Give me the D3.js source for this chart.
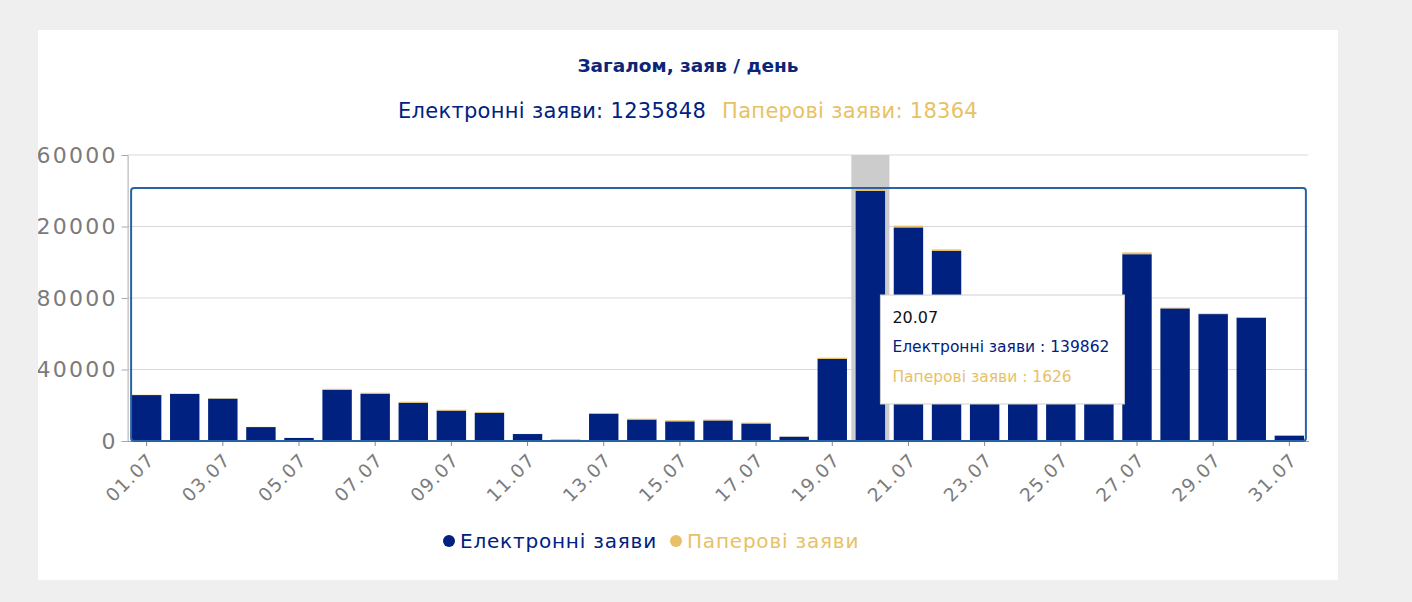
<!DOCTYPE html>
<html>
<head>
<meta charset="utf-8">
<script src="https://cdn.jsdelivr.net/npm/d3@7"></script>
<style>
  body { margin: 0; background: #efefef; font-family: "DejaVu Sans", sans-serif; }
  #card { position: absolute; left: 38px; top: 30px; width: 1300px; height: 550px; background: #fff; overflow: hidden; }
  svg { display: block; }
</style>
</head>
<body>
<div id="card"></div>
<script>
  // days of July
  var days = ['01.07','02.07','03.07','04.07','05.07','06.07','07.07','08.07','09.07','10.07',
              '11.07','12.07','13.07','14.07','15.07','16.07','17.07','18.07','19.07','20.07',
              '21.07','22.07','23.07','24.07','25.07','26.07','27.07','28.07','29.07','30.07','31.07'];

  // electronic applications per day
  var electronic = [25700, 26300, 23700, 7800, 1700, 28600, 26500, 21400, 17000, 15800,
                    3900, 700, 15300, 12000, 11000, 11500, 9800, 2400, 45900, 139862,
                    119500, 106300, 62400, 59800, 61200, 58086, 104500, 74200, 71000, 69000, 3000];

  // paper applications per day
  var paper = [200, 250, 200, 100, 50, 600, 500, 600, 500, 500,
               100, 30, 400, 500, 600, 500, 500, 120, 708, 1626,
               1000, 900, 1450, 1400, 1450, 1400, 1000, 400, 350, 350, 80];

  var yTicks = [0, 40000, 80000, 120000, 160000];
  var hoverDay = '20.07';

  var seriesNames = ['Електронні заяви', 'Паперові заяви'];
  var seriesColors = ['#00217f', '#e8c166'];

  var width = 1300, height = 550;
  var margin = { top: 125, right: 29.6, bottom: 139, left: 89.6 };

  var svg = d3.select('#card').append('svg')
    .attr('width', width)
    .attr('height', height);

  var x = d3.scaleBand()
    .domain(days)
    .range([margin.left, width - margin.right])
    .paddingInner(0.228)
    .paddingOuter(0.114);

  var y = d3.scaleLinear()
    .domain([0, 160000])
    .range([height - margin.bottom, margin.top]);

  var rows = days.map(function(d, i) {
    return { day: d, e: electronic[i], p: paper[i] };
  });
  var stack = d3.stack().keys(['e', 'p'])(rows);

  // title + totals
  svg.append('text')
    .attr('x', 650).attr('y', 42)
    .attr('text-anchor', 'middle')
    .attr('font-size', 18.5).attr('font-weight', 'bold')
    .attr('fill', '#0b2578')
    .text('Загалом, заяв / день');

  var totals = svg.append('text')
    .attr('x', 650).attr('y', 88)
    .attr('text-anchor', 'middle')
    .attr('font-size', 21)
    .attr('letter-spacing', 0.3);
  totals.append('tspan').attr('fill', seriesColors[0])
    .text(seriesNames[0] + ': ' + d3.sum(electronic));
  totals.append('tspan').attr('fill', seriesColors[1]).attr('dx', 16)
    .text(seriesNames[1] + ': ' + d3.sum(paper));

  // grid
  svg.append('g')
    .selectAll('line')
    .data(yTicks.slice(1))
    .join('line')
    .attr('x1', margin.left).attr('x2', width - margin.right)
    .attr('y1', function(d) { return y(d); })
    .attr('y2', function(d) { return y(d); })
    .attr('stroke', '#d9d9d9');

  // hovered band
  svg.append('rect')
    .attr('x', x(hoverDay) - x.step() * 0.114)
    .attr('y', y(160000))
    .attr('width', x.step())
    .attr('height', y(0) - y(160000))
    .attr('fill', '#cccccc');

  // bars
  svg.append('g')
    .selectAll('g')
    .data(stack)
    .join('g')
    .attr('fill', function(d, i) { return seriesColors[i]; })
    .selectAll('rect')
    .data(function(d) { return d; })
    .join('rect')
    .attr('x', function(d) { return x(d.data.day); })
    .attr('y', function(d) { return y(d[1]); })
    .attr('width', x.bandwidth())
    .attr('height', function(d) { return y(d[0]) - y(d[1]); });

  // axes
  var yAxis = svg.append('g')
    .attr('transform', 'translate(' + margin.left + ',0)')
    .call(d3.axisLeft(y).tickValues(yTicks).tickSize(6).tickPadding(4).tickFormat(d3.format('d')));
  yAxis.select('.domain').attr('stroke', '#aaa');
  yAxis.selectAll('.tick line').attr('stroke', '#aaa');
  yAxis.selectAll('.tick text')
    .attr('font-family', '"DejaVu Sans", sans-serif')
    .attr('font-size', 22)
    .attr('letter-spacing', 2.2)
    .attr('fill', '#7b7b7b');

  var xAxis = svg.append('g')
    .attr('transform', 'translate(0,' + y(0) + ')')
    .call(d3.axisBottom(x).tickValues(days.filter(function(d, i) { return i % 2 === 0; })).tickSize(5).tickSizeOuter(0));
  xAxis.select('.domain').attr('stroke', '#8a9ab3');
  xAxis.selectAll('.tick line').attr('stroke', '#888');
  xAxis.selectAll('.tick text')
    .attr('font-family', '"DejaVu Sans", sans-serif')
    .attr('font-size', 18.5)
    .attr('letter-spacing', 1.3)
    .attr('fill', '#7b7b7b')
    .attr('text-anchor', 'end')
    .attr('y', 0).attr('dy', 0)
    .attr('transform', 'translate(9,20) rotate(-45)');

  // selection frame
  svg.append('rect')
    .attr('x', margin.left + 3.5)
    .attr('y', y(139862 + 1626))
    .attr('width', width - margin.right - margin.left - 6)
    .attr('height', y(0) - y(139862 + 1626))
    .attr('rx', 3)
    .attr('fill', 'none')
    .attr('stroke', '#2a62a6')
    .attr('stroke-width', 2);

  // tooltip
  var hi = days.indexOf(hoverDay);
  var tip = svg.append('g')
    .attr('transform', 'translate(' + (x(hoverDay) + x.step() * 0.65) + ',265)');
  tip.append('rect')
    .attr('width', 244).attr('height', 109)
    .attr('fill', '#fff')
    .attr('stroke', '#cfcfcf');
  tip.append('text')
    .attr('x', 12).attr('y', 28)
    .attr('font-size', 16).attr('fill', '#111')
    .text(hoverDay);
  tip.append('text')
    .attr('x', 12).attr('y', 57)
    .attr('font-size', 15.5).attr('fill', seriesColors[0])
    .text(seriesNames[0] + ' : ' + electronic[hi]);
  tip.append('text')
    .attr('x', 12).attr('y', 87)
    .attr('font-size', 15.5).attr('fill', seriesColors[1])
    .text(seriesNames[1] + ' : ' + paper[hi]);

  // legend
  var legend = svg.append('g').attr('transform', 'translate(411,511)');
  var lx = [0, 227];
  seriesNames.forEach(function(name, i) {
    var item = legend.append('g').attr('transform', 'translate(' + lx[i] + ',0)');
    item.append('circle').attr('r', 6).attr('fill', seriesColors[i]);
    item.append('text')
      .attr('x', 11).attr('y', 7)
      .attr('font-size', 20)
      .attr('letter-spacing', 0.8)
      .attr('fill', seriesColors[i])
      .text(name);
  });
</script>
</body>
</html>
